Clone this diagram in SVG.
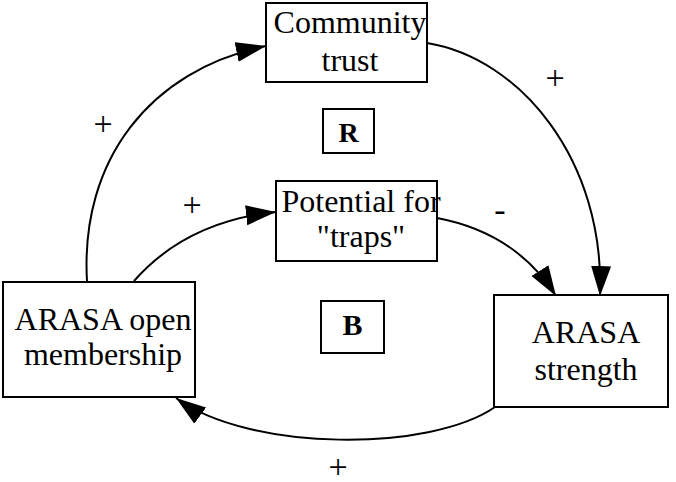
<svg xmlns="http://www.w3.org/2000/svg" width="676" height="482" viewBox="0 0 676 482">
  <style>
    .box { fill: #ffffff; stroke: #000000; stroke-width: 2; }
    .lbl { font-family: "Liberation Serif", "Times New Roman", serif; font-size: 32px; fill: #000000; text-anchor: middle; }
    .loop { font-family: "Liberation Serif", "Times New Roman", serif; font-weight: bold; fill: #000000; text-anchor: middle; }
    .sign { font-family: "Liberation Serif", "Times New Roman", serif; font-size: 34px; fill: #000000; text-anchor: middle; }
    .edge { fill: none; stroke: #000000; stroke-width: 2; marker-end: url(#head); }
  </style>
  <defs>
    <marker id="head" markerUnits="userSpaceOnUse" markerWidth="32" markerHeight="22" refX="30" refY="10" orient="auto">
      <path d="M0,0 L30,10 L0,20 Z" fill="#000000"/>
    </marker>
  </defs>

  <rect width="676" height="482" fill="#ffffff"/>

  <g id="connectors">
    <path class="edge" d="M87,281 C80,160 150,70 266,46"/>
    <path class="edge" d="M427,43 C520,58 605,160 600,296"/>
    <path class="edge" d="M134,281 C170,240 220,218 276,212"/>
    <path class="edge" d="M437,218 C490,228 530,255 556,296"/>
    <path class="edge" d="M495,407 C430,452 250,452 176,398"/>
  </g>

  <g id="community-trust">
    <rect class="box" x="266" y="3" width="161" height="79"/>
    <text class="lbl" x="350" y="33">Community</text>
    <text class="lbl" x="350" y="71">trust</text>
  </g>

  <g id="potential-traps">
    <rect class="box" x="276" y="181" width="161" height="80"/>
    <text class="lbl" x="361" y="212">Potential for</text>
    <text class="lbl" x="361" y="247">"traps"</text>
  </g>

  <g id="open-membership">
    <rect class="box" x="3" y="282" width="192" height="115"/>
    <text class="lbl" x="103" y="330">ARASA open</text>
    <text class="lbl" x="103" y="365">membership</text>
  </g>

  <g id="arasa-strength">
    <rect class="box" x="494" y="295" width="174" height="112"/>
    <text class="lbl" x="586" y="343">ARASA</text>
    <text class="lbl" x="586" y="380">strength</text>
  </g>

  <g id="loop-r">
    <rect class="box" x="323" y="109" width="51" height="44"/>
    <text class="loop" x="348.5" y="142" font-size="28">R</text>
  </g>

  <g id="loop-b">
    <rect class="box" x="321" y="301" width="63" height="52"/>
    <text class="loop" x="352.5" y="335" font-size="30">B</text>
  </g>

  <g id="polarities">
    <text class="sign" x="103" y="135">+</text>
    <text class="sign" x="555" y="89">+</text>
    <text class="sign" x="192" y="216">+</text>
    <text class="sign" x="500" y="221">-</text>
    <text class="sign" x="338" y="478">+</text>
  </g>
</svg>
